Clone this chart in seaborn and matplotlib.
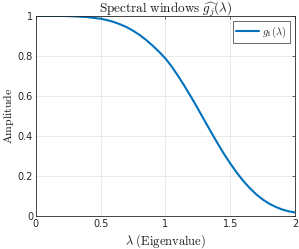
import matplotlib
matplotlib.use("Agg")
import matplotlib.pyplot as plt
import seaborn as sns
import numpy as np
import pandas as pd

# values
lam = [0.0, 0.05, 0.1, 0.15, 0.2, 0.25, 0.3, 0.35, 0.4, 0.45, 0.5,
       0.55, 0.6, 0.65, 0.7, 0.75, 0.8, 0.85, 0.9, 0.95, 1.0,
       1.05, 1.1, 1.15, 1.2, 1.25, 1.3, 1.35, 1.4, 1.45, 1.5,
       1.55, 1.6, 1.65, 1.7, 1.75, 1.8, 1.85, 1.9, 1.95, 2.0]
g1 = [1.000, 1.000, 1.000, 1.000, 1.000, 0.999, 0.998, 0.996, 0.994, 0.990, 0.986,
      0.979, 0.970, 0.958, 0.944, 0.926, 0.905, 0.880, 0.852, 0.821, 0.787,
      0.745, 0.697, 0.646, 0.592, 0.536, 0.478, 0.421, 0.365, 0.311, 0.262,
      0.216, 0.175, 0.139, 0.108, 0.082, 0.061, 0.045, 0.032, 0.023, 0.017]

df = pd.DataFrame({"lam": lam, "g1": g1})

sns.set_theme(style="white")
plt.rcParams["font.family"] = ["DejaVu Sans"]
plt.rcParams["mathtext.fontset"] = "cm"

fig = plt.figure(figsize=(2.99, 2.49), dpi=100)
ax = fig.add_axes([0.12, 0.133, 0.867, 0.803])

sns.lineplot(data=df, x="lam", y="g1", ax=ax, color=(0, 0.447, 0.741),
             linewidth=1.5, label=r"$g_1(\lambda)$")

ax.set_xlim(0, 2)
ax.set_ylim(0, 1)
ax.set_xticks([0, 0.5, 1, 1.5, 2])
ax.set_xticklabels(["0", "0.5", "1", "1.5", "2"])
ax.set_yticks([0, 0.2, 0.4, 0.6, 0.8, 1])
ax.set_yticklabels(["0", "0.2", "0.4", "0.6", "0.8", "1"])
ax.grid(True, color="0.9", linewidth=0.6)
ax.tick_params(direction="in", length=2.5, width=0.5, labelsize=7,
               colors="0.15", pad=2, top=True, right=True,
               labeltop=False, labelright=False)
for s in ax.spines.values():
    s.set_visible(True)
    s.set_color("0.15")
    s.set_linewidth(0.6)

ax.set_title(r"$\mathrm{Spectral\ windows}\ \widehat{g_j}(\lambda)$",
             fontsize=9.5, pad=2, color="0.1")
ax.set_xlabel(r"$\lambda\ \mathrm{(Eigenvalue)}$", fontsize=9, labelpad=2.5, color="0.1")
ax.set_ylabel(r"$\mathrm{Amplitude}$", fontsize=8.5, labelpad=1.5, color="0.1")

leg = ax.legend(loc="upper right", fontsize=7.5, frameon=True, fancybox=False,
                handlelength=2.2, borderpad=0.3, borderaxespad=0.5,
                handletextpad=0.3)
leg.get_frame().set_edgecolor("0.15")
leg.get_frame().set_linewidth(0.6)

fig.savefig("out.png", dpi=100)
